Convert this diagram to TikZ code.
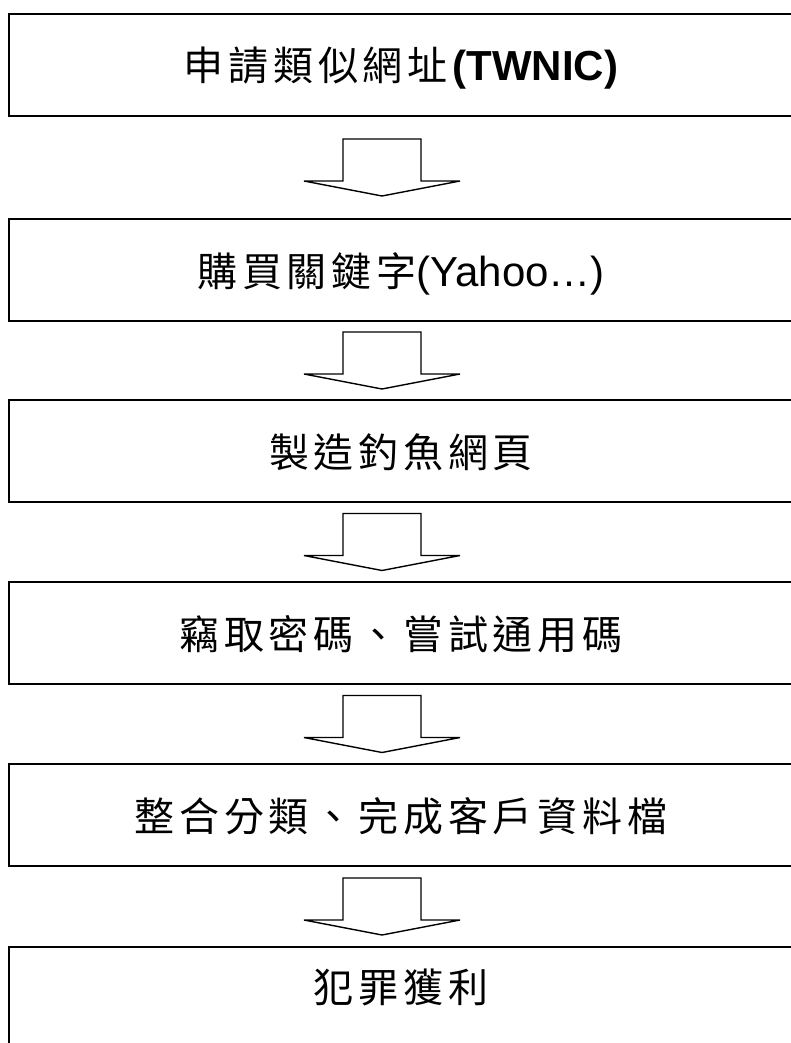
\documentclass[tikz,border=0pt]{standalone}
\usepackage{fontspec}
\setmainfont{Liberation Sans}
\newfontfamily\cjkfont[LetterSpace=12]{Noto Sans CJK TC}
\newcommand\cjtext[1]{{\fontsize{40}{44}\selectfont\cjkfont #1}}
\usetikzlibrary{calc}
\begin{document}
\begin{tikzpicture}[x=1pt,y=-1pt,
  stepbox/.style={draw, line width=2.2pt, minimum width=784pt, minimum height=102pt,
    inner sep=0pt, outer sep=0pt, anchor=north west, text height=41pt, text depth=9pt,
    font=\fontsize{42}{46}\selectfont},
  blockarrow/.style={draw, line width=1.4pt, line join=miter, fill=white}]
\useasboundingbox (0,0) rectangle (791,1043);
\clip (0,0) rectangle (791,1043);
\fill[white] (0,0) rectangle (791,1043);
\node[stepbox] (b1) at (9,14)  {\cjtext{申請類似網址}\textbf{(TWNIC)}};
\node[stepbox] (b2) at (9,219) {\cjtext{購買關鍵字}(Yahoo…)};
\node[stepbox] (b3) at (9,400) {\cjtext{製造釣魚網頁}};
\node[stepbox] (b4) at (9,582) {\cjtext{竊取密碼、嘗試通用碼}};
\node[stepbox] (b5) at (9,764) {\cjtext{整合分類、完成客戶資料檔}};
\node[stepbox, text depth=32pt] (b6) at (9,947) {\cjtext{犯罪獲利}};
\foreach \a/\b in {b1/b2,b2/b3,b3/b4,b4/b5,b5/b6}{
  \coordinate (m-\a) at ($(\a.south)!0.5!(\b.north)+(-19,0)$);
  \draw[blockarrow] ($(m-\a)+(-39,-28.5)$) -- ($(m-\a)+(39,-28.5)$) -- ($(m-\a)+(39,13.5)$)
    -- ($(m-\a)+(78,13.5)$) -- ($(m-\a)+(0,28.5)$) -- ($(m-\a)+(-78,13.5)$)
    -- ($(m-\a)+(-39,13.5)$) -- cycle;
}
\end{tikzpicture}
\end{document}
